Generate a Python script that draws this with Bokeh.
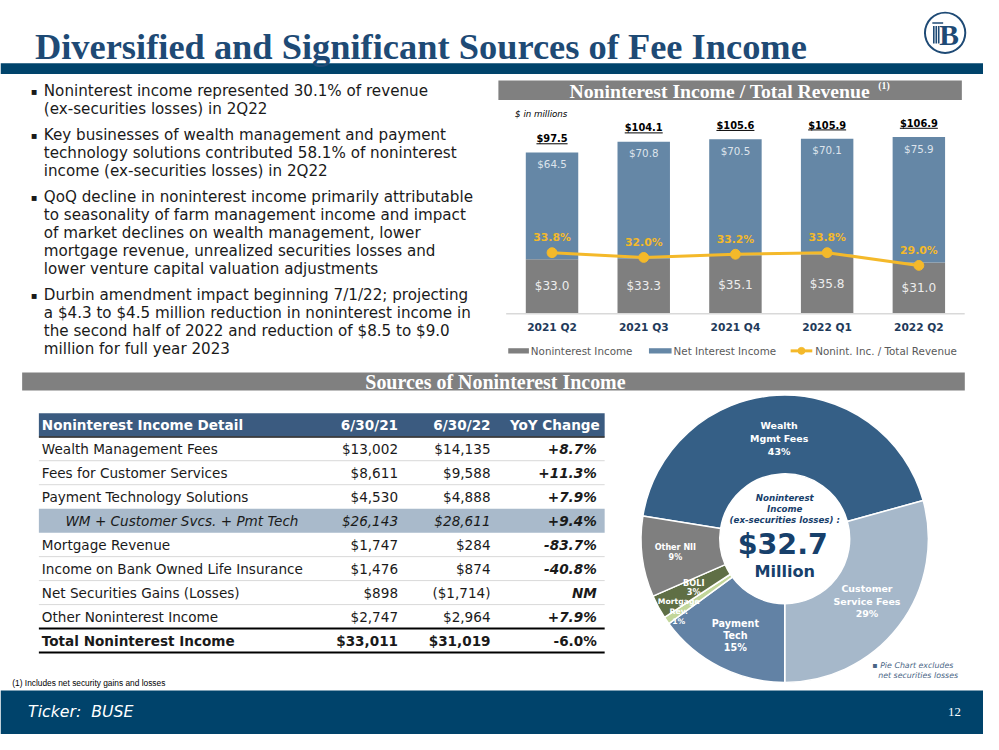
import math
from bokeh.plotting import figure
from bokeh.models import Range1d
from bokeh.core.properties import value
from bokeh.embed import file_html
from bokeh.resources import INLINE

# ---------------- data ----------------
quarters = ["2021 Q2", "2021 Q3", "2021 Q4", "2022 Q1", "2022 Q2"]
nonint_income = [33.0, 33.3, 35.1, 35.8, 31.0]
net_int_income = [64.5, 70.8, 70.5, 70.1, 75.9]
total_revenue = [97.5, 104.1, 105.6, 105.9, 106.9]
nonint_ratio = [33.8, 32.0, 33.2, 33.8, 29.0]

table_items = ["Wealth Management Fees", "Fees for Customer Services",
               "Payment Technology Solutions", "WM + Customer Svcs. + Pmt Tech",
               "Mortgage Revenue", "Income on Bank Owned Life Insurance",
               "Net Securities Gains (Losses)", "Other Noninterest Income",
               "Total Noninterest Income"]
val_6_30_21 = [13002, 8611, 4530, 26143, 1747, 1476, 898, 2747, 33011]
val_6_30_22 = [14135, 9588, 4888, 28611, 284, 874, -1714, 2964, 31019]
yoy_change = ["+8.7%", "+11.3%", "+7.9%", "+9.4%", "-83.7%", "-40.8%", "NM", "+7.9%", "-6.0%"]

pie_labels = [["Wealth", "Mgmt Fees"], ["Customer", "Service Fees"], ["Payment", "Tech"],
              ["Mortgage", "Rev."], ["BOLI"], ["Other NII"]]
pie_values = [14135, 9588, 4888, 284, 874, 2964]
pie_pct = ["43%", "29%", "15%", "1%", "3%", "9%"]

bullets = [
    ["Noninterest income represented 30.1% of revenue",
     "(ex-securities losses) in 2Q22"],
    ["Key businesses of wealth management and payment",
     "technology solutions contributed 58.1% of noninterest",
     "income (ex-securities losses) in 2Q22"],
    ["QoQ decline in noninterest income primarily attributable",
     "to seasonality of farm management income and impact",
     "of market declines on wealth management, lower",
     "mortgage revenue, unrealized securities losses and",
     "lower venture capital valuation adjustments"],
    ["Durbin amendment impact beginning 7/1/22; projecting",
     "a $4.3 to $4.5 million reduction in noninterest income in",
     "the second half of 2022 and reduction of $8.5 to $9.0",
     "million for full year 2023"],
]

# ---------------- styles ----------------
NAVY = "#00436B"
TITLE_C = "#1E4A75"
HDR_GRAY = "#808080"
GRAY = "#7F7F7F"
BLUE = "#6587A6"
GOLD = "#F4B92A"
TBL_HDR = "#3B5B80"
TBL_HI = "#A9BACB"
PIE_COLORS = ["#355F86", "#A6B8CA", "#6282A5", "#C2D69A", "#5F6F45", "#7F7F7F"]
SANS = "DejaVu Sans"
SERIF = "Liberation Serif"

W, H = 983, 734
SW, SH = 999, 750          # slide coordinate space
FS = W / SW                # font scale
OY = H / SH                # screen-offset scale

p = figure(width=W, height=H, x_range=Range1d(0, SW), y_range=Range1d(SH, 0),
           output_backend="svg", toolbar_location=None, min_border=0,
           x_axis_location=None, y_axis_location=None,
           background_fill_color="white", border_fill_color="white")
p.grid.visible = False
p.outline_line_color = None

# bar-chart scales (placed inside the slide frame)
BAR_X0, BAR_STEP = 560.5, 93.2
BASE_Y, PX_PER_M = 320.0, 1.688
PCT_Y0, PX_PER_PCT = 349.2, 2.708
p.extra_x_ranges = {"bars": Range1d((0 - BAR_X0) / BAR_STEP, (SW - BAR_X0) / BAR_STEP)}
p.extra_y_ranges = {
    "bars": Range1d(-(SH - BASE_Y) / PX_PER_M, BASE_Y / PX_PER_M),
    "pct": Range1d(-(SH - PCT_Y0) / PX_PER_PCT, PCT_Y0 / PX_PER_PCT),
}


def txt(x, y, s, size, color="#000000", font=SANS, style="normal", align="left",
        baseline="middle", y_offset=0, **kw):
    xs = x if isinstance(x, list) else [x]
    ys = y if isinstance(y, list) else [y]
    ss = s if isinstance(s, list) else [s]
    p.text(x=xs, y=ys, text=ss, text_font=value(font),
           text_font_size=value(f"{size * FS:.2f}px"),
           text_font_style=style, text_color=color, text_align=align,
           text_baseline=baseline, y_offset=y_offset * OY, **kw)


# ---------------- slide frame ----------------
p.quad(left=[0], right=[SW], top=[64], bottom=[75], fill_color=NAVY, line_color=None)
p.quad(left=[0], right=[SW], top=[705], bottom=[SH], fill_color=NAVY, line_color=None)
txt(35, 48, "Diversified and Significant Sources of Fee Income", 37, TITLE_C, SERIF,
    "bold", baseline="alphabetic")

# logo
p.annulus(x=[960], y=[33], inner_radius=19.5, outer_radius=21.5, fill_color=TITLE_C,
          line_color=None)
txt(964, 35, "B", 30, TITLE_C, SERIF, "bold", align="center")
p.segment(x0=[947, 948.5, 951, 953.5], y0=[23, 26, 26, 26], x1=[958, 948.5, 951, 953.5],
          y1=[23, 44, 44, 44], line_color=TITLE_C, line_width=1.6)

txt(28, 727, "Ticker:\u00a0 BUSE", 16, "white", SANS, "italic")
txt(976, 727, "12", 13, "white", SERIF, align="right")
txt(12, 697, "(1) Includes net security gains and losses", 8.5, "#000000", "Liberation Sans")

# ---------------- bullets ----------------
y = 92.7
for blines in bullets:
    txt(34, y, "\u25aa", 10, "#1A1A1A", SANS, align="center")
    for line in blines:
        txt(44, y, line, 15.4, "#1A1A1A", SANS)
        y += 18.4
    y += 8.1

# ---------------- bar chart ----------------
p.quad(left=[506], right=[977], top=[81.7], bottom=[101.7], fill_color=HDR_GRAY,
       line_color=None)
txt(731, 92.5, "Noninterest Income / Total Revenue", 20, "white", SERIF, "bold",
    align="center")
txt(892, 87, "(1)", 10, "white", SERIF, "bold")
txt(523, 115.7, "$ in millions", 8.8, "#000000", SANS, "italic")

idx = list(range(len(quarters)))
BW = 53.3 / BAR_STEP
tops = [a + b for a, b in zip(nonint_income, net_int_income)]
p.vbar(x=idx, bottom=0, top=nonint_income, width=BW, fill_color=GRAY, line_color=None,
       x_range_name="bars", y_range_name="bars")
p.vbar(x=idx, bottom=nonint_income, top=tops, width=BW, fill_color=BLUE, line_color=None,
       x_range_name="bars", y_range_name="bars")
p.segment(x0=[-0.5], y0=[0], x1=[len(quarters) - 0.5], y1=[0], line_color="#D9D9D9",
          line_width=1.5, x_range_name="bars", y_range_name="bars")

kw = dict(x_range_name="bars", y_range_name="bars")
txt(idx, [v / 2 for v in nonint_income], [f"${v:.1f}" for v in nonint_income], 12.3,
    "#EDEDED", SANS, align="center", **kw)
txt(idx, tops, [f"${v:.1f}" for v in net_int_income], 10.5, "#DDE4EC", SANS,
    align="center", y_offset=11.7, **kw)
txt(idx, tops, [f"${v:.1f}" for v in total_revenue], 10, "#000000", SANS, "bold",
    align="center", y_offset=-14, **kw)
# underline of totals
ul_half = [((len(f"${v:.1f}") - 1) * 0.696 + 0.38) * 10 / 2 / BAR_STEP for v in total_revenue]
p.segment(x0=[i - h for i, h in zip(idx, ul_half)], x1=[i + h for i, h in zip(idx, ul_half)],
          y0=[t + 9 / PX_PER_M for t in tops], y1=[t + 9 / PX_PER_M for t in tops],
          line_color="#000000", line_width=1, **kw)
txt(idx, [0] * len(idx), quarters, 10.8, "#1F3A5A", SANS, "bold", align="center",
    y_offset=14.3, **kw)

pk = dict(x_range_name="bars", y_range_name="pct")
p.line(x=idx, y=nonint_ratio, line_color=GOLD, line_width=3, **pk)
p.scatter(x=idx, y=nonint_ratio, size=10 * FS, fill_color=GOLD, line_color=GOLD, **pk)
txt(idx, nonint_ratio, [f"{v:.1f}%" for v in nonint_ratio], 11, GOLD, SANS, "bold",
    align="center", y_offset=-15.5, **pk)

# legend
p.quad(left=[516, 659], right=[537, 682], top=[355.3, 355.3], bottom=[360.7, 360.7],
       fill_color=[GRAY, BLUE], line_color=None)
p.segment(x0=[803], y0=[358], x1=[825], y1=[358], line_color=GOLD, line_width=3)
p.scatter(x=[814], y=[358], size=7 * FS, fill_color=GOLD, line_color=GOLD)
txt([539, 684, 828], [358] * 3, ["Noninterest Income", "Net Interest Income",
                                  "Nonint. Inc. / Total Revenue"], 10.5, "#595959", SANS)

# ---------------- section header ----------------
p.quad(left=[22], right=[980], top=[380], bottom=[398.5], fill_color=HDR_GRAY,
       line_color=None)
txt(503, 389.5, "Sources of Noninterest Income", 20.3, "white", SERIF, "bold",
    align="center")

# ---------------- table ----------------
TL, TR = 39, 614
ROW0, RH = 458.0, 24.5
p.quad(left=[TL], right=[TR], top=[421.7], bottom=[445.5], fill_color=TBL_HDR,
       line_color=None)
p.quad(left=[TL], right=[TR], top=[ROW0 + 3 * RH - RH / 2], bottom=[ROW0 + 3 * RH + RH / 2],
       fill_color=TBL_HI, line_color=None)
p.segment(x0=[TL], y0=[446], x1=[TR], y1=[446], line_color="#1A1A1A", line_width=1.5)
seps = [ROW0 + i * RH + RH / 2 for i in range(len(table_items) - 2) if i not in (2, 3)]
p.segment(x0=[TL] * len(seps), y0=seps, x1=[TR] * len(seps), y1=seps, line_color="#D9D9D9",
          line_width=1)
bl = [ROW0 + 7.5 * RH, ROW0 + 8.5 * RH]
p.segment(x0=[TL] * 2, y0=bl, x1=[TR] * 2, y1=bl, line_color="#000000", line_width=2)

txt(42, 433.5, "Noninterest Income Detail", 13.8, "white", SANS, "bold")
txt(404, 433.5, "6/30/21", 13.8, "white", SANS, "bold", align="right")
txt(498, 433.5, "6/30/22", 13.8, "white", SANS, "bold", align="right")
txt(609, 433.5, "YoY Change", 13.8, "white", SANS, "bold", align="right")


def money(v):
    return f"(${-v:,})" if v < 0 else f"${v:,}"


for i, name in enumerate(table_items):
    yy = ROW0 + i * RH
    st = "normal"
    lx = 42
    ys = "bold italic"
    if i == 3:
        st, lx = "italic", 66
    if i == len(table_items) - 1:
        st, ys = "bold", "bold"
    txt(lx, yy, name, 13.8, "#1A1A1A", SANS, st)
    txt(404, yy, money(val_6_30_21[i]), 13.8, "#1A1A1A", SANS, st, align="right")
    txt(498, yy, money(val_6_30_22[i]), 13.8, "#1A1A1A", SANS, st, align="right")
    txt(606, yy, yoy_change[i], 13.8, "#1A1A1A", SANS, ys, align="right")

# ---------------- pie (donut) ----------------
CX, CY, R_OUT, R_IN = 797, 550, 146, 66
tot = sum(pie_values)
start0 = -90 + 360 * (pie_values[0] + pie_values[1]) / tot
starts, ends, mids = [], [], []
a = start0
for v in pie_values:
    span = 360 * v / tot
    starts.append(math.radians(a))
    ends.append(math.radians(a - span))
    mids.append(a - span / 2)
    a -= span
p.annular_wedge(x=[CX] * len(pie_values), y=[CY] * len(pie_values), inner_radius=R_IN,
                outer_radius=R_OUT, start_angle=starts, end_angle=ends, direction="clock",
                fill_color=PIE_COLORS, line_color="white", line_width=1.5)

lab_r = [103, 105, 111, 131, 105, 112]
lab_size = [9.6, 9.6, 9.8, 7.8, 8.3, 8.2]
lab_lh = [13.3, 13, 12.4, 10, 9.6, 10]
for k, lines in enumerate(pie_labels):
    ang = math.radians(mids[k])
    lx = CX + lab_r[k] * math.cos(ang)
    ly = CY - lab_r[k] * math.sin(ang)
    allines = lines + [pie_pct[k]]
    n = len(allines)
    for j, s in enumerate(allines):
        txt(lx, ly + (j - (n - 1) / 2) * lab_lh[k], s, lab_size[k], "white", SANS, "bold",
            align="center")

CTR = "#17406B"
txt(797, 508.3, "Noninterest", 8.8, CTR, SANS, "bold italic", align="center")
txt(797, 519.5, "Income", 8.8, CTR, SANS, "bold italic", align="center")
txt(797, 531, "(ex-securities losses) :", 8.8, CTR, SANS, "bold italic", align="center")
txt(795, 556, f"${tot / 1000:.1f}", 29, CTR, SANS, "bold", align="center")
txt(797, 583.5, "Million", 16.4, CTR, SANS, "bold", align="center")

txt(886, 680, "\u25aa Pie Chart excludes", 8, "#4A6585", SANS, "italic")
txt(892, 690, "net securities losses", 8, "#4A6585", SANS, "italic")

open("out.html", "w").write(file_html(p, INLINE))
